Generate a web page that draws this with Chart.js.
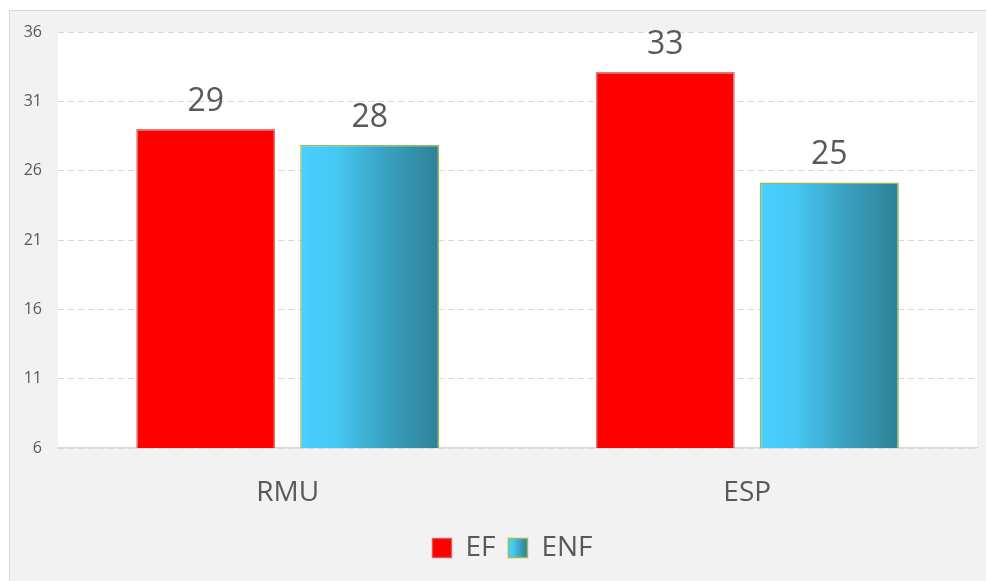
<!DOCTYPE html>
<html>
<head>
<meta charset="utf-8">
<script src="https://cdn.jsdelivr.net/npm/chart.js@4/dist/chart.umd.min.js"></script>
<style>
  html, body { margin: 0; padding: 0; background: #ffffff; }
  #wrap { width: 986px; height: 581px; }
</style>
</head>
<body>
<div id="wrap"><canvas id="c" width="986" height="581"></canvas></div>
<script>
const categories = ['RMU', 'ESP'];
const seriesNames = ['EF', 'ENF'];
const efValues = [29.0, 33.12];
const enfValues = [27.86, 25.15];
const yTicks = [6, 11, 16, 21, 26, 31, 36];

const FONT = "'Open Sans', 'DejaVu Sans', sans-serif";
const TEXT = '#595959';

function enfGradient(ctx, x0, x1) {
  const g = ctx.createLinearGradient(x0, 0, x1, 0);
  g.addColorStop(0, '#4ad0ff');
  g.addColorStop(0.25, '#46c8f4');
  g.addColorStop(0.6, '#3aa2c2');
  g.addColorStop(1, '#2e8196');
  return g;
}

const framePlugin = {
  id: 'frame',
  afterLayout(chart) {
    const lg = chart.legend;
    if (lg) { lg.left += 19; lg.right += 19; }
  },
  beforeDraw(chart) {
    const ctx = chart.ctx;
    const a = chart.chartArea;
    ctx.save();
    ctx.fillStyle = '#f2f2f2';
    ctx.fillRect(9, 10, chart.width, chart.height);
    ctx.strokeStyle = '#d9d9d9';
    ctx.lineWidth = 1;
    ctx.strokeRect(9.5, 10.5, chart.width + 10, chart.height + 10);
    ctx.fillStyle = '#ffffff';
    ctx.fillRect(a.left, a.top, a.right - a.left, a.bottom - a.top);
    ctx.restore();
    const lg = chart.legend;
    if (lg && lg.legendItems && lg.legendHitBoxes && lg.legendHitBoxes[1]) {
      const hb = lg.legendHitBoxes[1];
      const bw = lg.options.labels.boxWidth;
      lg.legendItems[1].fillStyle = enfGradient(ctx, hb.left, hb.left + bw);
    }
  },
  beforeDatasetsDraw(chart) {
    const meta = chart.getDatasetMeta(1);
    meta.data.forEach(el => {
      const p = el.getProps(['x', 'width'], true);
      el.options = Object.assign({}, el.options, {
        backgroundColor: enfGradient(chart.ctx, p.x - p.width / 2, p.x + p.width / 2)
      });
    });
  },
  afterDatasetsDraw(chart) {
    const ctx = chart.ctx;
    ctx.save();
    ctx.font = '32px ' + FONT;
    ctx.fillStyle = TEXT;
    ctx.textAlign = 'center';
    ctx.textBaseline = 'alphabetic';
    chart.data.datasets.forEach((ds, di) => {
      const meta = chart.getDatasetMeta(di);
      meta.data.forEach((el, i) => {
        const p = el.getProps(['x', 'y'], true);
        ctx.fillText(String(Math.round(ds.data[i])), p.x, p.y - 18);
      });
    });
    ctx.restore();
  }
};

new Chart(document.getElementById('c'), {
  type: 'bar',
  data: {
    labels: categories,
    datasets: [
      {
        label: seriesNames[0],
        data: efValues,
        backgroundColor: '#ff0000',
        borderColor: 'rgba(200,80,80,0.75)',
        borderWidth: 1.5
      },
      {
        label: seriesNames[1],
        data: enfValues,
        backgroundColor: '#46c8f4',
        borderColor: '#9bbb59',
        borderWidth: 1.5
      }
    ]
  },
  plugins: [framePlugin],
  options: {
    responsive: false,
    animation: false,
    devicePixelRatio: 1,
    categoryPercentage: 0.714,
    barPercentage: 0.848,
    layout: { padding: { left: 10, right: 9, top: 32, bottom: 9 } },
    plugins: {
      legend: {
        position: 'bottom',
        labels: {
          font: { family: FONT, size: 28 },
          color: TEXT,
          boxWidth: 19,
          boxHeight: 19,
          padding: 13
        }
      },
      tooltip: { enabled: false }
    },
    scales: {
      x: {
        afterFit(scale) { scale.height = 73; },
        grid: { display: false },
        border: { display: true, color: '#d9d9d9', width: 1.5 },
        ticks: { font: { family: FONT, size: 28 }, color: TEXT, padding: 20 }
      },
      y: {
        min: yTicks[0],
        max: yTicks[yTicks.length - 1],
        afterBuildTicks(scale) { scale.ticks = yTicks.map(v => ({ value: v })); },
        afterFit(scale) { scale.width = 48; },
        grid: { color: '#d9d9d9', lineWidth: 1, drawTicks: false },
        border: { display: false, dash: [6, 4] },
        ticks: { font: { family: FONT, size: 16 }, color: TEXT, padding: 16 }
      }
    }
  }
});
</script>
</body>
</html>
